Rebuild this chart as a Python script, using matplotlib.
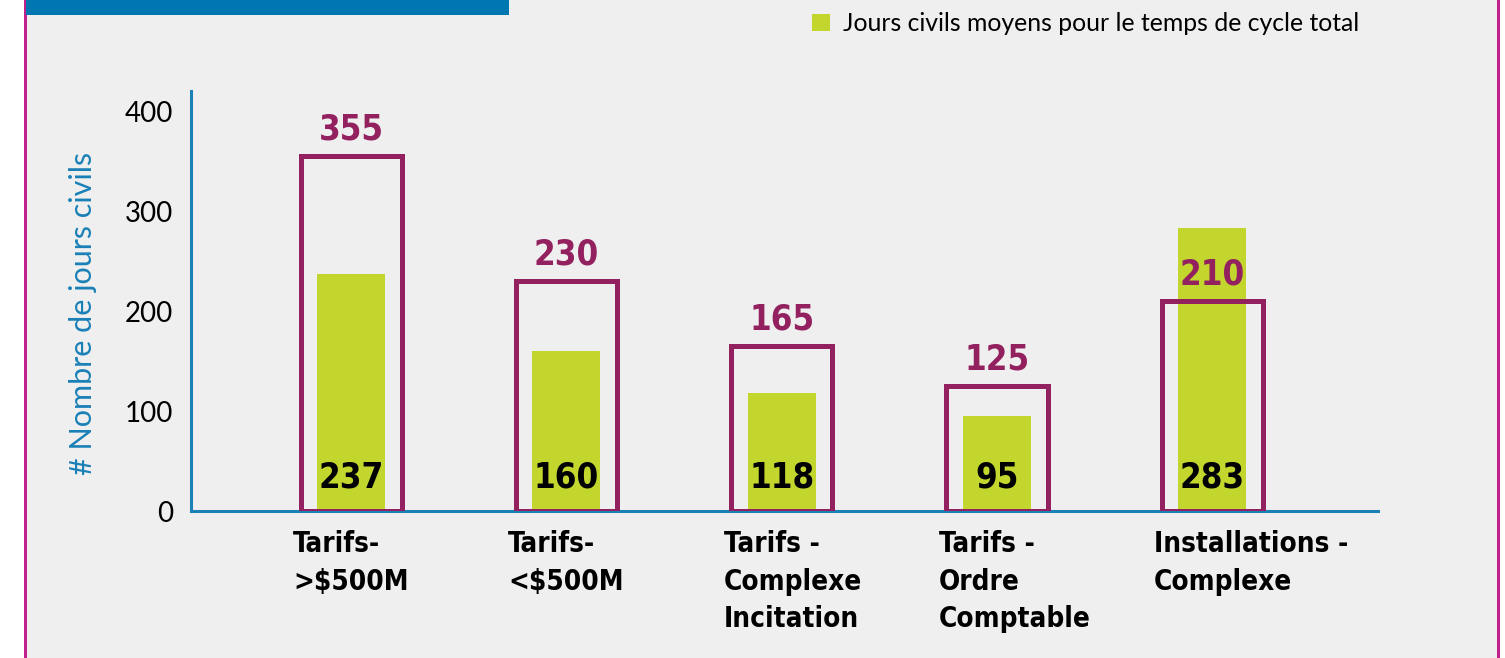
import matplotlib
matplotlib.use("Agg")
import matplotlib.pyplot as plt
from matplotlib.patches import Rectangle

# Donnees
categories = [
    "Tarifs-\n>$500M",
    "Tarifs-\n<$500M",
    "Tarifs -\nComplexe\nIncitation",
    "Tarifs -\nOrdre\nComptable",
    "Installations -\nComplexe",
]
cible = [355, 230, 165, 125, 210]      # contours magenta
moyenne = [237, 160, 118, 95, 283]     # barres vertes
yticks = [0, 100, 200, 300, 400]

magenta = "#93205f"
vert = "#c2d62e"
bleu = "#1a80b6"
fond = "#efefef"

cond = ["DejaVu Sans"]
reg = ["Lato", "DejaVu Sans"]

fig = plt.figure(figsize=(15.05, 6.58), dpi=100, facecolor="white")

# cadre de fond
fig.patches.append(Rectangle((26 / 1505, 0), (1498 - 26) / 1505, 1,
                             transform=fig.transFigure, facecolor=fond,
                             edgecolor="none", zorder=-2))
for xb in (25, 1498):
    fig.patches.append(Rectangle((xb / 1505 - 1.5 / 1505, 0), 3 / 1505, 1,
                                 transform=fig.transFigure, facecolor="#c0208a",
                                 edgecolor="none", zorder=-1))
# bandeau bleu en haut
fig.patches.append(Rectangle((26 / 1505, 1 - 15 / 658), (509 - 26) / 1505, 15 / 658,
                             transform=fig.transFigure, facecolor="#0077b0",
                             edgecolor="none", zorder=-1))

ax = fig.add_axes([191 / 1505, 147 / 658, (1378 - 191) / 1505, 420 / 658])
ax.set_facecolor("none")
ax.set_zorder(2)

x = list(range(len(categories)))
ax.bar(x, moyenne, width=0.316, color=vert, zorder=2,
       label="Jours civils moyens pour le temps de cycle total")
ax.bar(x, cible, width=0.47, facecolor="none", edgecolor=magenta,
       linewidth=3.6, zorder=3)

for xi, c, m in zip(x, cible, moyenne):
    ax.annotate(str(c), (xi, c), xytext=(0, 7), textcoords="offset points",
                ha="center", va="bottom", fontsize=25, fontweight="bold",
                fontstretch="condensed", color=magenta, family=cond, zorder=4)
    ax.text(xi, 24, str(m), ha="center", va="baseline", fontsize=25,
            fontweight="bold", fontstretch="condensed", color="black",
            family=cond, zorder=4)

for xi, lab in zip(x, categories):
    ax.annotate(lab, (xi - 0.27, 0), xycoords=("data", "axes fraction"),
                xytext=(0, -14), textcoords="offset points", ha="left",
                va="top", fontsize=20, fontweight="bold",
                fontstretch="condensed", family=cond,
                linespacing=1.42, annotation_clip=False)

ax.set_xlim(-0.744, 4.77)
ax.set_ylim(0, 420)
ax.set_xticks([])
ax.set_yticks(yticks)
ax.set_yticklabels([str(t) for t in yticks], fontsize=20, family=reg)
ax.tick_params(axis="y", length=0, pad=13)
for s in ("top", "right"):
    ax.spines[s].set_visible(False)
for s in ("left", "bottom"):
    ax.spines[s].set_color(bleu)
    ax.spines[s].set_linewidth(2.2)

fig.text(83 / 1505, 1 - 313 / 658, "# Nombre de jours civils", rotation=90,
         ha="center", va="center", fontsize=22, color=bleu, family=reg)

ax.legend(loc="upper left", bbox_to_anchor=(800 / 1505, 1.0),
          bbox_transform=fig.transFigure, frameon=False, handlelength=0.7,
          handleheight=0.7, handletextpad=0.55, borderaxespad=0.1,
          prop={"family": reg, "size": 17.8})

fig.savefig("out.png", dpi=100, facecolor="white")
